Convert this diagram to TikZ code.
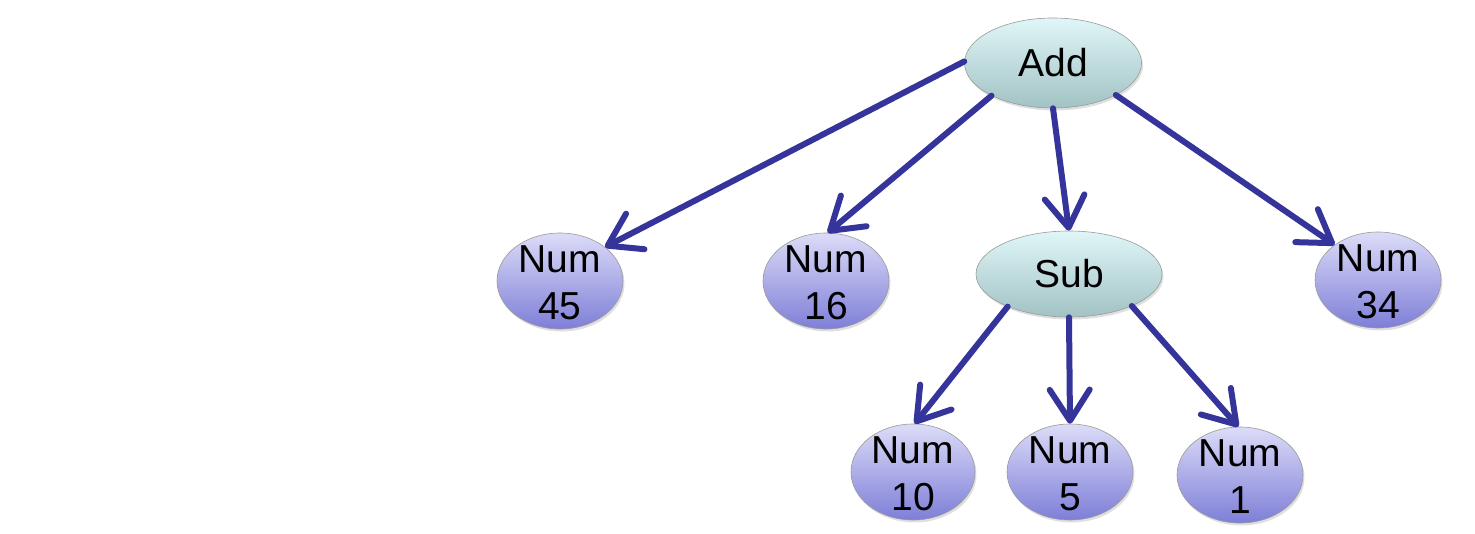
\documentclass[tikz,border=0pt]{standalone}
\usepackage{fontspec}
\setmainfont{Liberation Sans}
\usetikzlibrary{arrows.meta,shapes.geometric,shadows}
\definecolor{arrowblue}{HTML}{34349A}
\definecolor{numtop}{HTML}{DCDCF8}
\definecolor{nummid}{HTML}{B2B2EC}
\definecolor{numbot}{HTML}{7E7ED8}
\definecolor{optop}{HTML}{E0F6F8}
\definecolor{opmid}{HTML}{C6E4E6}
\definecolor{opbot}{HTML}{A2C2C4}
\definecolor{rimgray}{HTML}{9A9A9A}
\tikzset{
  bubble/.style={ellipse, inner sep=0pt, draw=rimgray, line width=0.6pt,
    drop shadow={opacity=0.25, shadow xshift=1.5pt, shadow yshift=-2.5pt}},
  numnode/.style={bubble, minimum width=126pt, minimum height=96pt,
    top color=numtop, middle color=nummid, bottom color=numbot},
  opnode/.style={bubble, top color=optop, middle color=opmid, bottom color=opbot},
  txt/.style={font=\fontsize{39}{47}\selectfont, align=center, inner sep=0pt, text=black},
  conn/.style={draw=arrowblue, line width=6pt, line cap=round,
    -{Straight Barb[length=31pt,width=40pt,round]}}
}
\begin{document}
\begin{tikzpicture}[x=1pt,y=-1pt]
\useasboundingbox (0,0) rectangle (1475,534);
% operator nodes
\node[opnode, minimum width=177pt, minimum height=90pt] (add) at (1053,63) {};
\node[txt] (addt) at (add.center) {Add};
\node[opnode, minimum width=186pt, minimum height=86pt] (sub) at (1069,274) {};
\node[txt] (subt) at (sub.center) {Sub};
% number nodes
\node[numnode] (n45) at (560,281) {};
\node[txt] (n45t) at ([yshift=-2pt]n45.center) {Num\\45};
\node[numnode] (n16) at (826,281) {};
\node[txt] (n16t) at ([yshift=-2pt]n16.center) {Num\\16};
\node[numnode] (n34) at (1378,280) {};
\node[txt] (n34t) at ([yshift=-2pt]n34.center) {Num\\34};
\node[numnode, minimum width=124pt] (n10) at (913,472) {};
\node[txt] (n10t) at ([yshift=-2pt]n10.center) {Num\\10};
\node[numnode] (n5) at (1070,472) {};
\node[txt] (n5t) at ([yshift=-2pt]n5.center) {Num\\5};
\node[numnode] (n1) at (1240,475) {};
\node[txt] (n1t) at ([yshift=-2pt]n1.center) {Num\\1};
% connectors
\draw[conn] (add.179) -- (n45.37);
\draw[conn] (add.208) -- (n16.88);
\draw[conn] (add.270) -- (sub.90);
\draw[conn] (add.333) -- (n34.141);
\draw[conn] (sub.208) -- (n10.88);
\draw[conn] (sub.270) -- (n5.90);
\draw[conn] (sub.333) -- (n1.92);
\end{tikzpicture}
\end{document}
